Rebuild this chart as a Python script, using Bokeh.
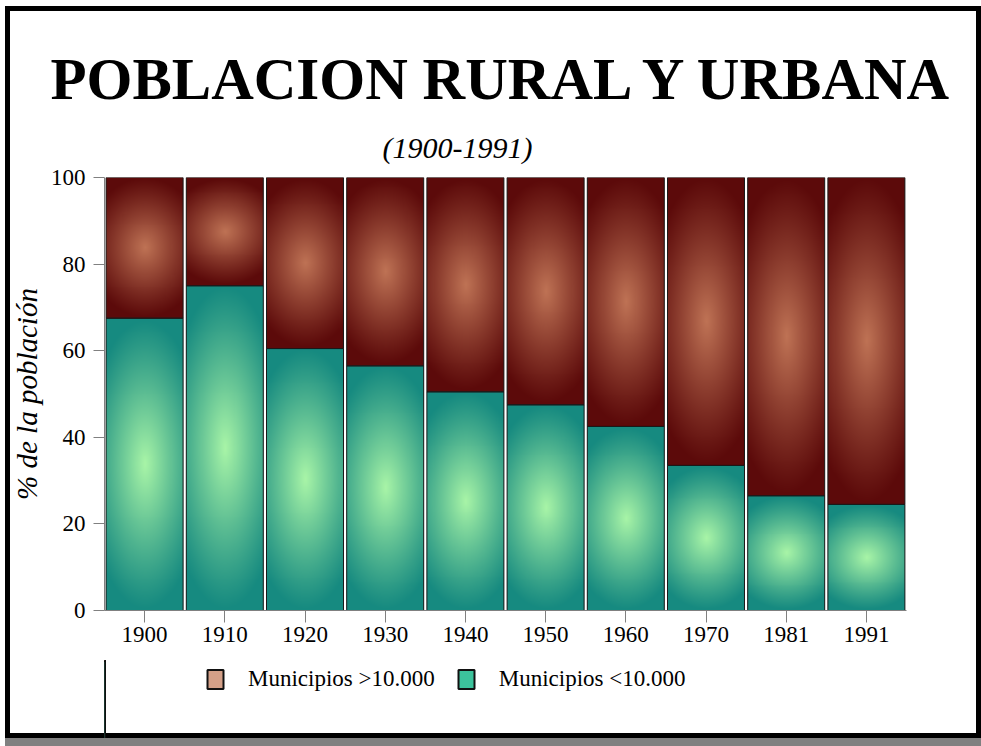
import numpy as np
from bokeh.plotting import figure
from bokeh.layouts import column
from bokeh.models import Range1d, FixedTicker, Title, Legend, LegendItem, ColumnDataSource
from bokeh.embed import file_html
from bokeh.resources import INLINE

# ---- data ----
years = ["1900", "1910", "1920", "1930", "1940", "1950", "1960", "1970", "1981", "1991"]
menores = [67.5, 75.0, 60.5, 56.5, 50.5, 47.5, 42.5, 33.5, 26.5, 24.5]   # Municipios <10.000
mayores = [32.5, 25.0, 39.5, 43.5, 49.5, 52.5, 57.5, 66.5, 73.5, 75.5]   # Municipios >10.000
y_ticks = [0, 20, 40, 60, 80, 100]
title_text = "POBLACION RURAL Y URBANA"
subtitle_text = "(1900-1991)"
y_label = "% de la población"
label_mayores = "Municipios >10.000"
label_menores = "Municipios <10.000"

# ---- style ----
SERIF = "Liberation Serif"
BAR_W = 0.96
GREEN_EDGE = np.array([22, 138, 128], dtype=float)
GREEN_CENTER = np.array([170, 246, 168], dtype=float)
BROWN_EDGE = np.array([92, 10, 10], dtype=float)
BROWN_CENTER = np.array([192, 116, 86], dtype=float)
LEG_GREEN = "#3cc39c"
LEG_BROWN = "#d4a088"


def gradient(ny, nx, edge, center, power=1.1):
    yy = np.linspace(-1, 1, ny)[:, None]
    xx = np.linspace(-1, 1, nx)[None, :]
    r = np.sqrt((0.65 * xx) ** 2 + yy ** 2)
    f = np.clip(1 - r, 0, 1) ** power
    rgb = edge[None, None, :] + (center - edge)[None, None, :] * f[..., None]
    img = np.empty((ny, nx), dtype=np.uint32)
    v = img.view(dtype=np.uint8).reshape((ny, nx, 4))
    v[..., :3] = np.clip(rgb, 0, 255).astype(np.uint8)
    v[..., 3] = 255
    return img


pos = list(range(len(years)))
src = ColumnDataSource(dict(x=pos, menores=menores, mayores=mayores))

# ================= main chart =================
p = figure(width=981, height=660, output_backend="svg", toolbar_location=None,
           x_range=Range1d(-0.5, len(years) - 0.5), y_range=Range1d(0, 100),
           min_border_left=104, min_border_right=75, min_border_top=177, min_border_bottom=50)
p.border_fill_color = None
p.background_fill_color = None
p.outline_line_color = None
p.grid.visible = False

p.vbar_stack(["menores", "mayores"], x="x", width=BAR_W, source=src,
             fill_color=[LEG_GREEN, LEG_BROWN], line_color=None)

# gradient fills
imgs, xs, ys, dws, dhs = [], [], [], [], []
for i in range(len(years)):
    lo, hi = menores[i], mayores[i]
    imgs.append(gradient(max(4, int(round(lo * 4.4))), 78, GREEN_EDGE, GREEN_CENTER))
    xs.append(pos[i] - BAR_W / 2); ys.append(0); dws.append(BAR_W); dhs.append(lo)
    imgs.append(gradient(max(4, int(round(hi * 4.4))), 78, BROWN_EDGE, BROWN_CENTER))
    xs.append(pos[i] - BAR_W / 2); ys.append(lo); dws.append(BAR_W); dhs.append(hi)
p.image_rgba(image=imgs, x=xs, y=ys, dw=dws, dh=dhs)

# outlines on top
p.vbar_stack(["menores", "mayores"], x="x", width=BAR_W, source=src,
             fill_color=None, line_color="#1a1a1a", line_width=1)

# axes
yax = p.yaxis[0]
yax.ticker = FixedTicker(ticks=y_ticks)
yax.major_tick_out = 11
yax.major_tick_in = 0
yax.minor_tick_out = 0
yax.minor_tick_in = 0
yax.axis_line_color = "#808080"
yax.major_tick_line_color = "#808080"
yax.major_label_text_font = SERIF
yax.major_label_text_font_size = "23px"
yax.major_label_text_color = "black"
yax.major_label_standoff = 8
yax.axis_label = y_label
yax.axis_label_text_font = SERIF
yax.axis_label_text_font_style = "italic"
yax.axis_label_text_font_size = "29px"
yax.axis_label_text_color = "black"
yax.axis_label_standoff = 5

xax = p.xaxis[0]
xax.ticker = FixedTicker(ticks=pos)
xax.major_label_overrides = {pos[i]: years[i] for i in range(len(years))}
xax.major_tick_out = 12
xax.major_tick_in = 0
xax.minor_tick_out = 0
xax.minor_tick_in = 0
xax.axis_line_color = "#808080"
xax.major_tick_line_color = "#808080"
xax.major_label_text_font = SERIF
xax.major_label_text_font_size = "23px"
xax.major_label_text_color = "black"
xax.major_label_standoff = 4

# titles (first added sits closest to the frame)
p.add_layout(Title(text=subtitle_text, align="left", offset=278, standoff=27,
                   text_font=SERIF, text_font_style="italic", text_font_size="30px",
                   text_color="black"), "above")
p.add_layout(Title(text=title_text, align="left", offset=-54, standoff=8,
                   text_font=SERIF, text_font_style="bold", text_font_size="59px",
                   text_color="black"), "above")

# ================= legend strip =================
q = figure(width=981, height=78, output_backend="svg", toolbar_location=None,
           x_range=Range1d(100, 101), y_range=Range1d(0, 1),
           x_axis_location=None, y_axis_location=None,
           min_border_left=0, min_border_right=0, min_border_top=0, min_border_bottom=0)
q.border_fill_color = None
q.background_fill_color = None
q.outline_line_color = None
q.grid.visible = False

r_men, r_may = q.vbar_stack(["menores", "mayores"], x="x", width=BAR_W, source=src,
                            fill_color=[LEG_GREEN, LEG_BROWN], line_color="#111111",
                            line_width=2)

legend = Legend(items=[LegendItem(label=label_mayores, renderers=[r_may]),
                       LegendItem(label=label_menores, renderers=[r_men])],
                orientation="horizontal", location=(101, 46),
                glyph_width=20, glyph_height=24, label_height=24,
                label_standoff=23, spacing=21, padding=0, margin=0,
                border_line_color=None, background_fill_alpha=0,
                label_text_font=SERIF, label_text_font_size="23px", label_text_color="black")
q.add_layout(legend, "center")

layout = column(p, q, spacing=0,
                styles={"box-shadow": ("inset 5px 6px 0 0 white, inset 10px 11px 0 0 black, "
                                       "inset -5px -5px 0 0 black, 5px 8px 0 0 #808080"),
                        "background-color": "white"})
open("out.html", "w").write(file_html(layout, INLINE))
